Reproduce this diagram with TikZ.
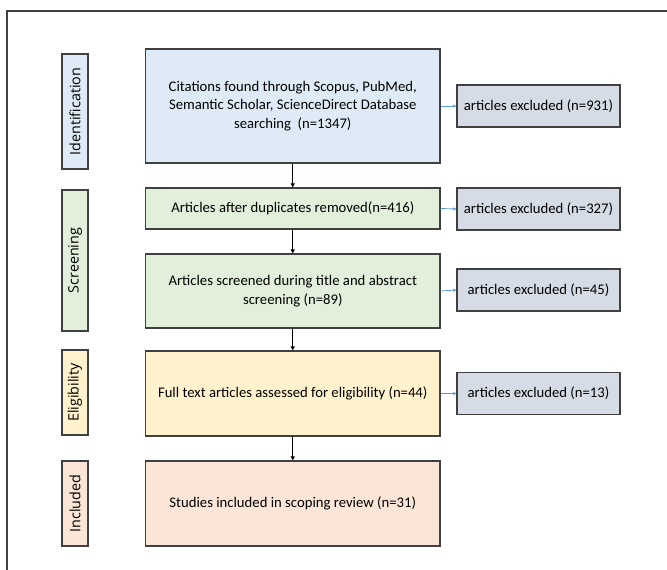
\documentclass[tikz,border=0pt]{standalone}
\usepackage{fontspec}
\setmainfont{Carlito}
\newfontfamily\sidefont{Open Sans}
\usetikzlibrary{arrows.meta}
\definecolor{cblue}{HTML}{DEEBF7}
\definecolor{cgreen}{HTML}{E2EFDA}
\definecolor{cyellow}{HTML}{FFF2CC}
\definecolor{cpink}{HTML}{FBE5D6}
\definecolor{cgray}{HTML}{D6DCE5}
\definecolor{edge}{HTML}{404040}
\definecolor{arrblue}{HTML}{5B9BD5}
\begin{document}
\begin{tikzpicture}[x=1pt,y=-1pt,
  mainbox/.style={draw=edge,line width=1.3pt,minimum width=294.5pt,align=center,inner sep=0pt,
    font=\fontsize{14.7}{18.5}\selectfont},
  exbox/.style={draw=edge,line width=1.3pt,fill=cgray,minimum width=163pt,minimum height=42pt,inner sep=0pt,
    font=\fontsize{14.7}{18.5}\selectfont},
  sidebox/.style={draw=edge,line width=1.3pt,minimum height=26pt,inner sep=0pt,rotate=90,
    font=\sidefont\fontsize{14.3}{16}\selectfont},
  downarr/.style={-{Triangle[length=4pt,width=4pt]},line width=1.3pt,black},
  exarr/.style={-{Triangle[length=3pt,width=3pt]},line width=0.8pt,arrblue}]
\useasboundingbox (0,0) rectangle (667,570);
\draw[line width=1.2pt,edge] (7,572) -- (7,11) -- (669,11);

\node[sidebox,fill=cblue,minimum width=115pt] (s1) at (75,111.5) {Identification};
\node[sidebox,fill=cgreen,minimum width=141pt] (s2) at (75,260.5) {Screening};
\node[sidebox,fill=cyellow,minimum width=85pt] (s3) at (75,392.5) {Eligibility};
\node[sidebox,fill=cpink,minimum width=85pt] (s4) at (75,503.5) {Included};

\node[mainbox,fill=cblue,minimum height=114pt] (b1) at (292.75,106) {Citations found through Scopus, PubMed,\\Semantic Scholar, ScienceDirect Database\\searching~~(n=1347)};
\node[mainbox,fill=cgreen,minimum height=41pt] (b2) at (292.75,208.5) {Articles after duplicates removed(n=416)};
\node[mainbox,fill=cgreen,minimum height=74pt] (b3) at (292.75,291) {Articles screened during title and abstract\\screening (n=89)};
\node[mainbox,fill=cyellow,minimum height=85pt] (b4) at (292.75,393.5) {Full text articles assessed for eligibility (n=44)};
\node[mainbox,fill=cpink,minimum height=85pt] (b5) at (292.75,503.5) {Studies included in scoping review (n=31)};

\node[exbox] (e1) at (538.5,106) {articles excluded (n=931)};
\node[exbox] (e2) at (538.5,209) {articles excluded (n=327)};
\node[exbox] (e3) at (538.5,290) {articles excluded (n=45)};
\node[exbox] (e4) at (538.5,393.5) {articles excluded (n=13)};

\draw[downarr] (b1.south) -- (b2.north);
\draw[downarr] (b2.south) -- (b3.north);
\draw[downarr] (b3.south) -- (b4.north);
\draw[downarr] (b4.south) -- (b5.north);

\draw[exarr] (b1.east) -- (e1.west);
\draw[exarr] (b2.east) -- (e2.west);
\draw[exarr] (b3.east) -- (e3.west);
\draw[exarr] (b4.east) -- (e4.west);
\end{tikzpicture}
\end{document}
